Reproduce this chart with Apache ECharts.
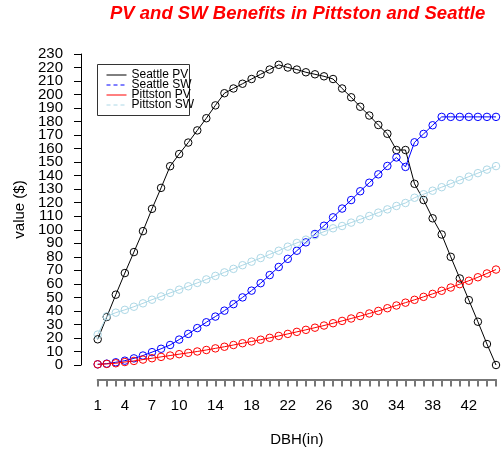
<!DOCTYPE html>
<html>
<head>
<meta charset="utf-8">
<script src="https://cdn.jsdelivr.net/npm/echarts@6/dist/echarts.min.js"></script>
<style>
  html, body { margin: 0; padding: 0; background: #ffffff; }
  #chart { width: 503px; height: 457px; }
</style>
</head>
<body>
<div id="chart"></div>
<script>
// Tree diameter classes (DBH, inches)
const dbhCategories = [1, 2, 3, 4, 5, 6, 7, 8, 9, 10, 11, 12, 13, 14, 15, 16, 17, 18, 19, 20,
  21, 22, 23, 24, 25, 26, 27, 28, 29, 30, 31, 32, 33, 34, 35, 36, 37, 38, 39, 40,
  41, 42, 43, 44, 45];

// Labels printed under the x axis
const xTickLabels = [1, 4, 7, 10, 14, 18, 22, 26, 30, 34, 38, 42];

// y axis range and step ($)
const yMin = 0;
const yMax = 230;
const yStep = 10;

// Benefit values ($) per DBH class
const seattlePV = [19, 35.5, 52, 68, 83.5, 99, 115.5, 131, 147, 156,
  164.5, 173.5, 182.5, 192, 201, 204.5, 208, 211.5, 215, 218.5,
  222, 220, 218.5, 216.5, 215, 213.5, 211.5, 204.5, 198, 191,
  184.5, 177.5, 171, 159, 159, 134, 122, 108.5, 96.5, 80,
  64, 48, 32, 15.5, 0];

const seattleSW = [0.5, 1, 2, 3.2, 4.9, 7, 9.5, 12, 14.8, 18.8,
  23, 27.3, 31.6, 35.8, 40.2, 45, 50, 55, 60.5, 66.5,
  72.5, 78.5, 84.5, 90.7, 96.9, 103, 109.2, 115.7, 122, 128.5,
  134.8, 141, 147.2, 153.5, 146.5, 164.7, 170.9, 177.3, 183.5, 183.5,
  183.5, 183.5, 183.5, 183.5, 183.5];

const pittstonPV = [0.5, 0.8, 1.3, 2.2, 3, 4, 5, 6, 7, 8,
  9, 10, 11.1, 12.3, 13.5, 14.8, 16.1, 17.4, 18.7, 20.1,
  21.5, 23, 24.5, 26, 27.6, 29.2, 30.9, 32.6, 34.4, 36.2,
  38.1, 40, 42, 44, 46.1, 48.2, 50.4, 52.6, 54.9, 57.3,
  59.8, 62.3, 64.9, 67.7, 70.6];

const pittstonSW = [22.5, 36, 38.7, 40.8, 43.1, 45.6, 48.3, 50.7, 53.3, 55.7,
  58.2, 60.7, 63.3, 65.9, 68.5, 71.1, 73.8, 76.4, 79.1, 81.8,
  84.5, 87.5, 90.3, 92.7, 96, 98.6, 101.1, 102.8, 105.3, 107.7,
  110.2, 112.7, 115.1, 117.6, 119.8, 123.7, 126.3, 128.9, 131.5, 134.1,
  136.7, 139.3, 141.9, 144.5, 147.1];

const seriesNames = ['Seattle PV', 'Seattle SW', 'Pittston PV', 'Pittston SW'];
const seriesValues = [seattlePV, seattleSW, pittstonPV, pittstonSW];
const seriesColors = ['#000000', '#0000ff', '#ff0000', '#add8e6'];
const legendDash = ['solid', [4, 3], 'solid', [4, 3]];

const FONT = '"Liberation Sans", Arial, Helvetica, sans-serif';
const AXIS_FONT = { fontFamily: FONT, fontSize: 15, color: '#000' };
const X_AXIS_STROKE = { color: '#777777', width: 2 };

const chart = echarts.init(document.getElementById('chart'), null, { renderer: 'canvas' });

// Shared y-axis settings; the end labels (0 and 230) get their own
// axis so the library does not drop the crowded 10 / 220 labels.
const yAxisBase = {
  type: 'value',
  position: 'left',
  min: yMin,
  max: yMax,
  offset: 16.7,
  splitLine: { show: false }
};

const option = {
  animation: false,
  backgroundColor: '#ffffff',
  textStyle: { fontFamily: FONT },
  title: {
    text: 'PV and SW Benefits in Pittston and Seattle',
    left: 110,
    top: 4,
    padding: 0,
    textStyle: {
      color: '#ff0000',
      fontFamily: FONT,
      fontSize: 18.5,
      fontWeight: 'bold',
      fontStyle: 'italic'
    }
  },
  legend: {
    orient: 'vertical',
    left: 106,
    top: 69,
    padding: 0,
    itemGap: -2,
    itemWidth: 20,
    itemHeight: 10,
    itemStyle: { opacity: 0 },
    selectedMode: false,
    textStyle: { fontFamily: FONT, fontSize: 12, color: '#000', lineHeight: 10 },
    data: seriesNames.map((n, i) => ({
      name: n,
      lineStyle: { type: legendDash[i], width: 1 }
    }))
  },
  graphic: [{
    type: 'rect',
    shape: { x: 97.5, y: 64.5, width: 92, height: 51 },
    style: { fill: 'none', stroke: '#333', lineWidth: 1 },
    z: 0
  }],
  grid: { left: 97.7, right: 7, top: 54, bottom: 92, containLabel: false },
  xAxis: {
    type: 'category',
    position: 'bottom',
    data: dbhCategories,
    boundaryGap: false,
    offset: 14.5,
    name: 'DBH(in)',
    nameLocation: 'middle',
    nameGap: 53,
    nameTextStyle: AXIS_FONT,
    axisLine: { show: true, onZero: false, lineStyle: X_AXIS_STROKE },
    axisTick: { show: true, interval: 0, length: 7, inside: false, lineStyle: X_AXIS_STROKE },
    axisLabel: Object.assign({
      interval: (idx, val) => xTickLabels.indexOf(Number(val)) !== -1,
      margin: 19
    }, AXIS_FONT),
    splitLine: { show: false }
  },
  yAxis: [
    Object.assign({}, yAxisBase, {
      interval: yStep,
      name: 'value ($)',
      nameLocation: 'middle',
      nameGap: 54,
      nameTextStyle: AXIS_FONT,
      axisLine: { show: true, onZero: false, lineStyle: { color: '#000', width: 1 } },
      axisTick: { show: true, length: 7, inside: false, lineStyle: { color: '#000' } },
      axisLabel: Object.assign({ margin: 18, showMinLabel: false, showMaxLabel: false }, AXIS_FONT)
    }),
    Object.assign({}, yAxisBase, {
      interval: yMax - yMin,
      axisLine: { show: false, onZero: false },
      axisTick: { show: true, length: 7, inside: false, lineStyle: { color: '#000' } },
      axisLabel: Object.assign({ margin: 18, showMinLabel: true, showMaxLabel: true }, AXIS_FONT)
    })
  ],
  series: seriesNames.map((n, i) => ({
    name: n,
    type: 'line',
    yAxisIndex: 0,
    data: seriesValues[i],
    clip: false,
    symbol: 'circle',
    symbolSize: 7.5,
    showSymbol: true,
    showAllSymbol: true,
    lineStyle: { color: seriesColors[i], width: 1 },
    itemStyle: { color: 'rgba(0,0,0,0)', borderColor: seriesColors[i], borderWidth: 1 },
    emphasis: { disabled: true },
    z: 2 + i
  }))
};

chart.setOption(option);
</script>
</body>
</html>
